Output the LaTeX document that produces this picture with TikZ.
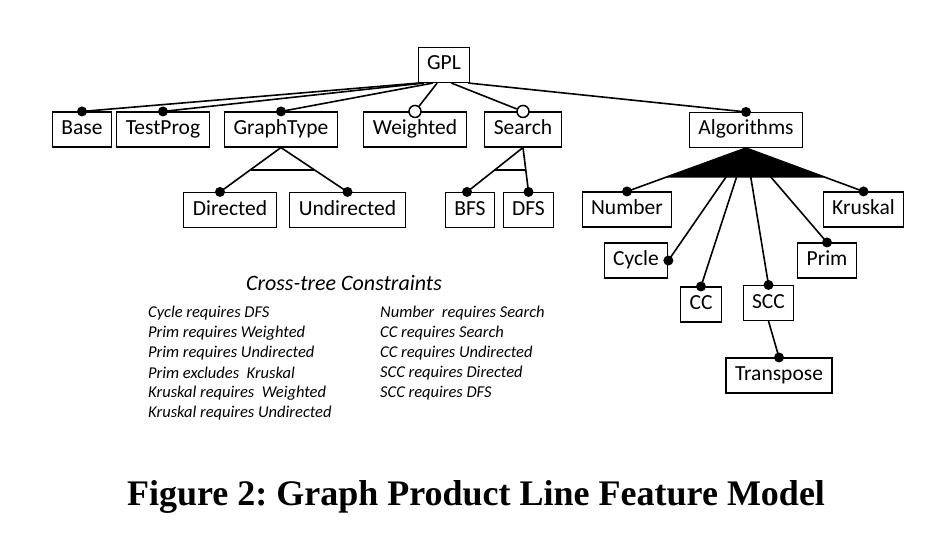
\documentclass[tikz,border=0pt]{standalone}
\usepackage{fontspec}
\setmainfont{Carlito}
\newfontfamily\capfont{Liberation Serif}
\usetikzlibrary{calc,positioning}
\frenchspacing

\begin{document}
\begin{tikzpicture}[x=1pt,y=-1pt,
  feat/.style={draw,line width=1.1pt,minimum height=35pt,text height=14pt,text depth=4pt,inner xsep=9pt,font=\fontsize{21.5}{24}\selectfont},
  edge/.style={line width=1.6pt},
  mand/.style={circle,fill=black,inner sep=0pt,minimum size=10pt},
  opt/.style={circle,draw,fill=white,line width=1.5pt,inner sep=0pt,minimum size=12pt},
  cons/.style={font=\fontsize{16.5}{18}\selectfont\itshape,anchor=west,inner sep=0pt}]

\useasboundingbox (0,0) rectangle (935,559);

% features
\node[feat] (GPL) at (444,65) {GPL};
\node[feat] (Base) at (82,129.5) {Base};
\node[feat] (TestProg) at (163,129.5) {TestProg};
\node[feat] (GraphType) at (281,129.5) {GraphType};
\node[feat] (Weighted) at (415,129.5) {Weighted};
\node[feat] (Search) at (523,129.5) {Search};
\node[feat] (Algorithms) at (746,130) {Algorithms};
\node[feat] (Directed) at (230,210) {Directed};
\node[feat] (Undirected) at (347.5,210) {Undirected};
\node[feat] (BFS) at (470,210) {BFS};
\node[feat] (DFS) at (528.5,210) {DFS};
\node[feat] (Number) at (627,209.5) {Number};
\node[feat] (Kruskal) at (863.5,209.5) {Kruskal};
\node[feat] (Cycle) at (636,260.5) {Cycle};
\node[feat] (Prim) at (827,260.5) {Prim};
\node[feat] (CC) at (701,304.5) {CC};
\node[feat] (SCC) at (768.5,303) {SCC};
\node[feat] (Transpose) at (779,375.5) {Transpose};

% root edges
\foreach \f/\p in {Base/0.02,TestProg/0.12,GraphType/0.29,Algorithms/0.96} {
  \node[mand] (d\f) at (\f.north) {};
  \draw[edge] ($(GPL.south west)!\p!(GPL.south east)$) -- (d\f.center);
}
\foreach \f/\p in {Weighted/0.37,Search/0.64} {
  \node[opt] (o\f) at (\f.north) {};
  \draw[edge] ($(GPL.south west)!\p!(GPL.south east)$) -- (o\f);
}

% alternatives
\node[mand] (dDirected) at ([xshift=-10pt]Directed.north) {};
\node[mand] (dUndirected) at (Undirected.north) {};
\node[mand] (dBFS) at ([xshift=-3pt]BFS.north) {};
\node[mand] (dDFS) at (DFS.north) {};
\draw[edge] (dDirected.center) -- (GraphType.south) -- (dUndirected.center);
\draw[edge] ($(GraphType.south)!0.5!(dDirected.center)$) -- ($(GraphType.south)!0.5!(dUndirected.center)$);
\draw[edge] (dBFS.center) -- (Search.south) -- (dDFS.center);
\draw[edge] ($(Search.south)!0.5!(dBFS.center)$) -- ($(Search.south)!0.5!(dDFS.center)$);

% or-group
\foreach \f/\a in {Number/north,Cycle/east,CC/north,SCC/north,Prim/north,Kruskal/north} {
  \node[mand] (d\f) at (\f.\a) {};
  \draw[edge] (Algorithms.south) -- (d\f.center);
}
\fill (Algorithms.south) -- ($(Algorithms.south)!0.68!(dNumber.center)$)
  -- ($(Algorithms.south)!0.68!(dKruskal.center)$) -- cycle;
\node[mand] (dTranspose) at (Transpose.north) {};
\draw[edge] (SCC.south) -- (dTranspose.center);

% constraints
\node[font=\fontsize{22}{24}\selectfont\itshape] (ctitle) at (344,283) {Cross-tree Constraints};
\foreach \t [count=\i] in {Cycle requires DFS,Prim requires Weighted,Prim requires Undirected,
    Prim excludes~ Kruskal,Kruskal requires~ Weighted,Kruskal requires Undirected}
  \node[cons] (cl\i) at (148,293+\i*20) {\t};
\foreach \t [count=\i] in {Number~ requires Search,CC requires Search,CC requires Undirected,
    SCC requires Directed,SCC requires DFS}
  \node[cons] (cr\i) at (380,293+\i*20) {\t};

% caption
\node[font=\capfont\bfseries\fontsize{36}{40}\selectfont] (caption) at (476,497) {Figure 2: Graph Product Line Feature Model};
\end{tikzpicture}
\end{document}
